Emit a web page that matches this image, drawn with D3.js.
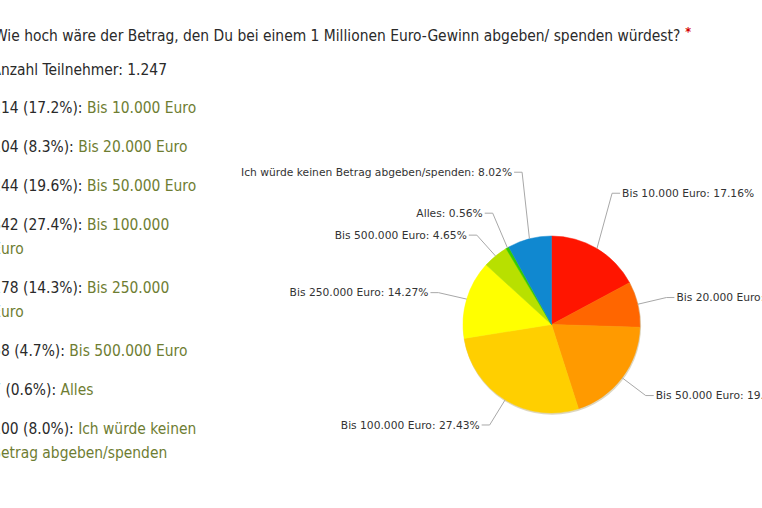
<!DOCTYPE html>
<html>
<head>
<meta charset="utf-8">
<script src="https://cdn.jsdelivr.net/npm/d3@7/dist/d3.min.js"></script>
<style>
  html, body { margin: 0; padding: 0; background: #fff; }
  svg { display: block; }
</style>
</head>
<body>
<svg id="chart" width="762" height="508"></svg>
<script>
// ---------- data ----------
const questionText = "Wie hoch wäre der Betrag, den Du bei einem 1 Millionen Euro-Gewinn abgeben/ spenden würdest?";
const participantsText = "Anzahl Teilnehmer: 1.247";
const categories = [
  "Bis 10.000 Euro",
  "Bis 20.000 Euro",
  "Bis 50.000 Euro",
  "Bis 100.000 Euro",
  "Bis 250.000 Euro",
  "Bis 500.000 Euro",
  "Alles",
  "Ich würde keinen Betrag abgeben/spenden"
];
const counts = [214, 104, 244, 342, 178, 58, 7, 100];
const pieLabelPercents = ["17.16%", "8.34%", "19.57%", "27.43%", "14.27%", "4.65%", "0.56%", "8.02%"];
const listPercents = ["17.2%", "8.3%", "19.6%", "27.4%", "14.3%", "4.7%", "0.6%", "8.0%"];

// ---------- styles / layout ----------
const sliceColors = ["#ff1500", "#ff6600", "#ff9a00", "#ffcf00", "#ffff00", "#b8e000", "#33cc00", "#1088d0"];
const labelLift = [-30, 0, 0, 0, 2, 2, -9, -38];

const svg = d3.select("#chart");
const leftFont = "'DejaVu Sans Condensed', 'DejaVu Sans', sans-serif";
const darkText = "#2a2a2a";
const greenText = "#6e7d32";

// ---------- title ----------
const title = svg.append("text")
  .attr("y", 41)
  .attr("font-family", leftFont)
  .attr("font-size", 15)
  .attr("fill", darkText)
  .text(questionText);
let tw = title.node().getComputedTextLength();
const wW = title.node().getSubStringLength(0, 1);
let leftSize = 15 * (681 + wW * 0.45) / tw;
title.attr("font-size", leftSize);
const wW2 = title.node().getSubStringLength(0, 1);
title.attr("x", -wW2 * 0.45);
tw = title.node().getComputedTextLength();
svg.append("text")
  .attr("x", -wW2 * 0.45 + tw + 5)
  .attr("y", 36)
  .attr("font-family", leftFont)
  .attr("font-size", leftSize * 0.8)
  .attr("font-weight", "bold")
  .attr("fill", "#d40000")
  .text("*");

function placeHidden(sel, offset) {
  const w = sel.node().getSubStringLength(0, 1);
  sel.attr("x", -w + offset);
}

const part = svg.append("text")
  .attr("y", 75)
  .attr("font-family", leftFont)
  .attr("font-size", leftSize)
  .attr("fill", darkText)
  .text(participantsText);
placeHidden(part, 1);

// ---------- answer list ----------
const wrapLimit = 199;
let baseY = 113;
categories.forEach((cat, i) => {
  const prefix = counts[i] + " (" + listPercents[i] + "): ";
  const t = svg.append("text")
    .attr("y", baseY)
    .attr("font-family", leftFont)
    .attr("font-size", leftSize)
    .attr("fill", darkText);
  t.append("tspan").text(prefix);
  const g = t.append("tspan").attr("fill", greenText);
  const words = cat.split(" ");
  let line = [];
  let rest = [];
  for (let k = 0; k < words.length; k++) {
    const trial = line.concat(words[k]);
    g.text(trial.join(" "));
    placeHidden(t, 1);
    const x0 = +t.attr("x");
    if (x0 + t.node().getComputedTextLength() > wrapLimit && line.length > 0) {
      rest = words.slice(k);
      break;
    }
    line = trial;
  }
  g.text(line.join(" "));
  placeHidden(t, 1);
  let lastY = baseY;
  if (rest.length) {
    lastY = baseY + 24;
    const t2 = svg.append("text")
      .attr("y", lastY)
      .attr("font-family", leftFont)
      .attr("font-size", leftSize)
      .attr("fill", greenText)
      .text(rest.join(" "));
    placeHidden(t2, 1);
  }
  baseY = lastY + 39;
});

// ---------- pie ----------
const cx = 551.5, cy = 324.5, r = 88.5, labelR = 118;
const pie = d3.pie().sort(null).value(d => d);
const arcs = pie(counts);
const arc = d3.arc().innerRadius(0).outerRadius(r);

const pg = svg.append("g").attr("transform", `translate(${cx},${cy})`);
pg.append("circle").attr("r", r + 0.5).attr("cx", 0.6).attr("cy", 1.2).attr("fill", "rgba(120,90,0,0.25)");
pg.selectAll("path.slice")
  .data(arcs)
  .join("path")
  .attr("class", "slice")
  .attr("d", arc)
  .attr("fill", (d, i) => sliceColors[i])
  .attr("stroke", (d, i) => sliceColors[i])
  .attr("stroke-width", 0.5);

// labels with leader lines
const lg = svg.append("g");
arcs.forEach((d, i) => {
  const a = (d.startAngle + d.endAngle) / 2;
  const sx = cx + r * Math.sin(a), sy = cy - r * Math.cos(a);
  const ex = cx + labelR * Math.sin(a);
  const ly = cy - labelR * Math.cos(a) + labelLift[i];
  const right = Math.sin(a) >= 0;
  const hx = ex + (right ? 8 : -8);
  lg.append("polyline")
    .attr("points", `${sx},${sy} ${ex},${ly} ${hx},${ly}`)
    .attr("fill", "none")
    .attr("stroke", "#a8a8a8")
    .attr("stroke-width", 1);
  lg.append("text")
    .attr("x", ex + (right ? 10 : -10))
    .attr("y", ly + 3.8)
    .attr("text-anchor", right ? "start" : "end")
    .attr("font-family", "'DejaVu Sans', sans-serif")
    .attr("font-size", 10.7)
    .attr("fill", "#333")
    .text(categories[i] + ": " + pieLabelPercents[i]);
});
</script>
</body>
</html>
